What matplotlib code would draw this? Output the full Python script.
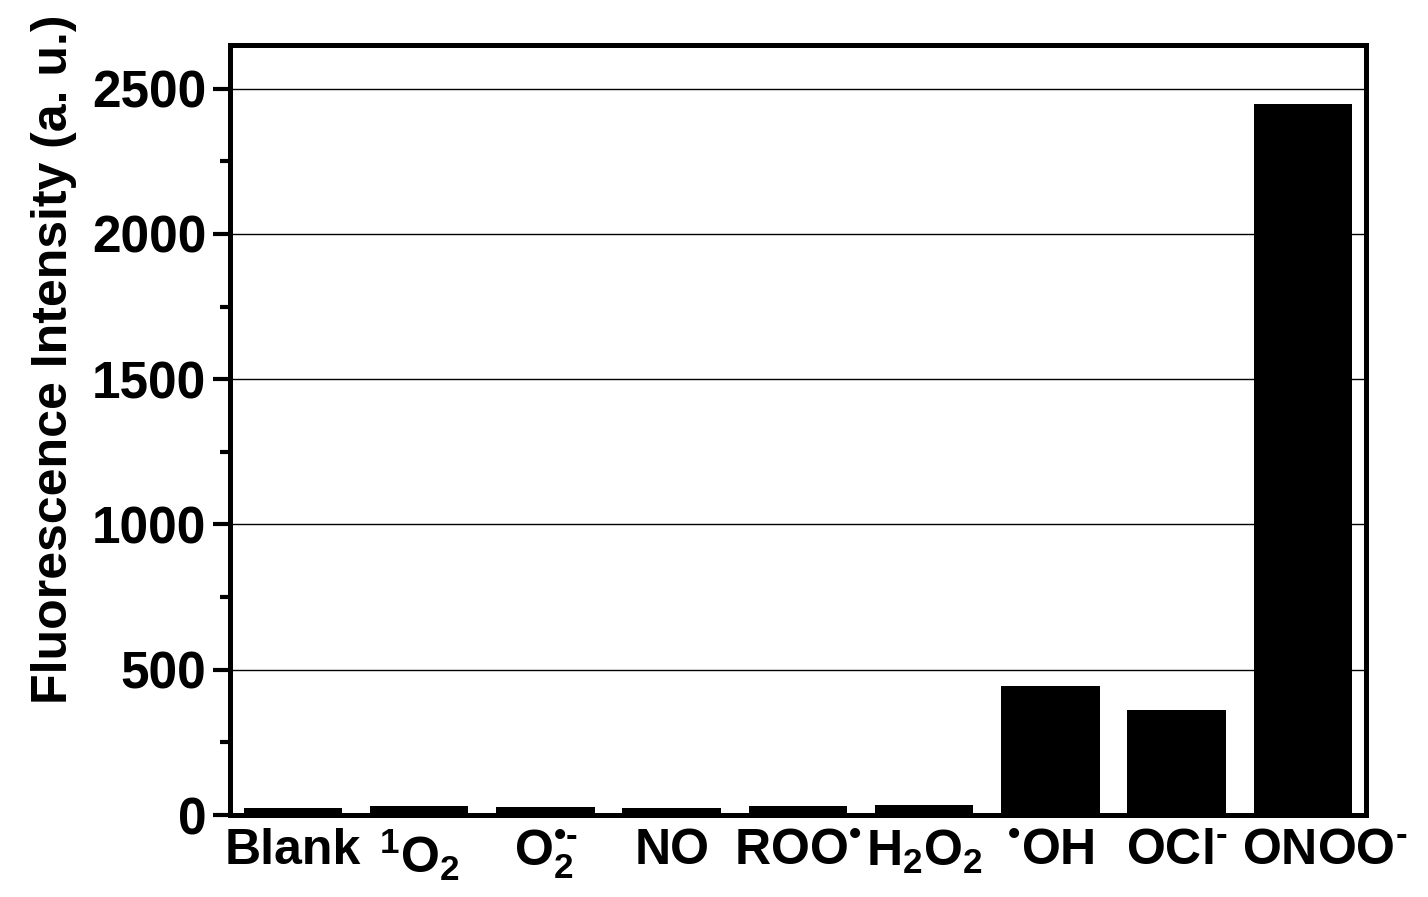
import matplotlib
matplotlib.use("Agg")
import matplotlib.pyplot as plt
import matplotlib.transforms as mtransforms
from matplotlib.ticker import MultipleLocator

categories = ["Blank", r"$^{1}$O$_{2}$", r"O$_{2}^{•\text{-}}$", "NO", r"ROO$^{•}$",
              r"H$_{2}$O$_{2}$", r"$^{•}$OH", r"OCl$^{\text{-}}$", r"ONOO$^{\text{-}}$"]
values = [25, 32, 26, 24, 32, 35, 443, 361, 2448]
yticks = [0, 500, 1000, 1500, 2000, 2500]

plt.rcParams['font.family'] = ['Liberation Sans', 'DejaVu Sans']
plt.rcParams['font.weight'] = 'bold'
plt.rcParams['mathtext.fontset'] = 'custom'
plt.rcParams['mathtext.rm'] = 'Liberation Sans:bold'
plt.rcParams['mathtext.it'] = 'Liberation Sans:bold'
plt.rcParams['mathtext.bf'] = 'Liberation Sans:bold'
plt.rcParams['mathtext.sf'] = 'Liberation Sans:bold'
plt.rcParams['mathtext.default'] = 'rm'

fig = plt.figure(figsize=(14.28, 8.97), dpi=100)
ax = fig.add_axes([0.161, 0.0914, 0.9566 - 0.161, 0.9498 - 0.0914])

x = list(range(len(categories)))
ax.bar(x, values, width=0.78, color='black', zorder=3)

ax.set_xlim(-0.5, len(categories) - 0.5)
ax.set_ylim(0, 2650)
ax.set_yticks(yticks)
ax.yaxis.set_minor_locator(MultipleLocator(250))
ax.yaxis.grid(True, which='major', color='black', linewidth=1.0, zorder=1)
ax.set_axisbelow(True)

ax.set_xticks(x)
ax.set_xticklabels(categories, fontsize=36, fontweight='bold')
ax.tick_params(axis='x', length=0, pad=9)
ax.tick_params(axis='y', which='major', length=12, width=3, direction='out', labelsize=37, pad=5)
ax.tick_params(axis='y', which='minor', length=7, width=3, direction='out')
for lab in ax.get_yticklabels():
    lab.set_fontweight('bold')

# nudge the last label right, as in the reference layout
last = ax.get_xticklabels()[-1]
last.set_transform(last.get_transform() + mtransforms.ScaledTranslation(22 / 100, 0, fig.dpi_scale_trans))

for s in ax.spines.values():
    s.set_linewidth(3.6)

ax.set_ylabel("Fluorescence Intensity (a. u.)", fontsize=36, fontweight='bold')
ax.yaxis.set_label_coords(-0.135, 0.592)

fig.savefig("out.png", dpi=100)
